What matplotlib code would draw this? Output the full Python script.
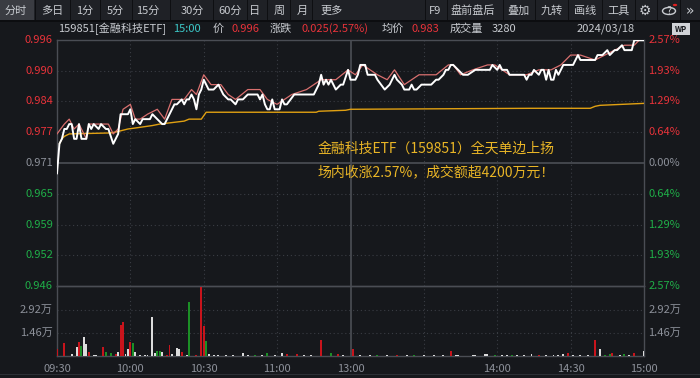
import matplotlib.pyplot as plt
from matplotlib.patches import Rectangle, Circle

plt.rcParams['font.family'] = ['Noto Sans CJK SC', 'DejaVu Sans']

# ---- data (minute index: 0 = 09:30, 120 = 11:30/13:00, 240 = 15:00)
prev_close = 0.9711

t_price = [0, 1, 2, 3, 4, 5, 6, 7, 8, 9, 10, 11, 12, 13, 14, 15, 17, 18, 20, 21, 23, 24, 25, 26, 27, 29,
           30, 31, 32, 34, 35, 36, 38, 39, 41, 43, 44, 46, 48, 49, 51, 52, 53, 54, 55, 56, 57, 58, 59,
           60, 61, 62, 64, 66, 67, 68, 70, 71, 73, 74, 76, 78, 80, 82, 83, 84, 85, 86, 87, 88, 89, 91,
           92, 93, 94, 97, 101, 105, 107, 108, 109, 110, 111, 112, 114, 116, 117, 119, 120, 122, 123,
           124, 126, 127, 130, 131, 134, 136, 138, 139, 141, 142, 144, 145, 146, 147, 149, 153, 155,
           156, 158, 159, 160, 161, 162, 164, 166, 168, 171, 172, 177, 178, 180, 181, 182, 184, 185,
           191, 192, 193, 194, 195, 197, 198, 199, 200, 201, 202, 203, 204, 205, 207, 209, 211, 213,
           214, 220, 221, 223, 225, 226, 228, 229, 231, 232, 235, 236, 240]
price = [0.969, 0.975, 0.976, 0.978, 0.978, 0.979, 0.979, 0.976, 0.976, 0.979, 0.976, 0.976, 0.976,
         0.979, 0.978, 0.979, 0.978, 0.979, 0.978, 0.978, 0.975, 0.976, 0.977, 0.981, 0.981, 0.981,
         0.982, 0.979, 0.980, 0.979, 0.980, 0.980, 0.980, 0.981, 0.980, 0.979, 0.979, 0.981, 0.983,
         0.983, 0.984, 0.983, 0.984, 0.984, 0.985, 0.984, 0.982, 0.985, 0.986, 0.988, 0.987, 0.986,
         0.986, 0.987, 0.986, 0.985, 0.984, 0.984, 0.983, 0.984, 0.984, 0.985, 0.985, 0.985, 0.984,
         0.985, 0.983, 0.982, 0.982, 0.984, 0.982, 0.982, 0.984, 0.983, 0.983, 0.985, 0.985, 0.985,
         0.987, 0.989, 0.987, 0.988, 0.987, 0.988, 0.986, 0.987, 0.987, 0.990, 0.988, 0.988, 0.989,
         0.991, 0.991, 0.989, 0.989, 0.988, 0.986, 0.987, 0.989, 0.988, 0.987, 0.986, 0.986, 0.987,
         0.986, 0.986, 0.987, 0.987, 0.988, 0.988, 0.989, 0.990, 0.990, 0.991, 0.991, 0.990, 0.989,
         0.989, 0.990, 0.990, 0.990, 0.991, 0.990, 0.991, 0.990, 0.990, 0.989, 0.989, 0.988, 0.989,
         0.989, 0.990, 0.989, 0.990, 0.990, 0.988, 0.990, 0.988, 0.988, 0.990, 0.989, 0.991, 0.991,
         0.991, 0.993, 0.992, 0.992, 0.993, 0.993, 0.994, 0.993, 0.994, 0.994, 0.995, 0.994, 0.994,
         0.996, 0.996]

t_ref = [0, 3, 5, 7, 9, 12, 13, 18, 21, 23, 25, 27, 30, 32, 34, 37, 41, 44, 47, 52, 55, 57, 60, 63, 67,
         70, 73, 78, 83, 86, 90, 96, 102, 108, 114, 119, 122, 125, 131, 135, 138, 142, 148, 155, 160,
         162, 165, 170, 176, 179, 185, 192, 197, 202, 206, 210, 214, 220, 224, 228, 232, 236, 238]
ref = [0.977, 0.979, 0.980, 0.978, 0.979, 0.976, 0.979, 0.979, 0.979, 0.977, 0.978, 0.982, 0.983,
       0.980, 0.980, 0.981, 0.982, 0.980, 0.984, 0.984, 0.986, 0.985, 0.989, 0.987, 0.987, 0.985,
       0.984, 0.986, 0.986, 0.984, 0.983, 0.985, 0.986, 0.988, 0.988, 0.990, 0.989, 0.991, 0.989,
       0.988, 0.990, 0.987, 0.989, 0.989, 0.991, 0.991, 0.989, 0.990, 0.991, 0.991, 0.989, 0.989,
       0.990, 0.990, 0.991, 0.993, 0.993, 0.992, 0.993, 0.994, 0.995, 0.995, 0.996]

t_avg = [1, 2, 3, 5, 22, 25, 29, 32, 39, 42, 47, 52, 54, 59, 61, 106, 107, 118, 120, 194, 218, 220,
         222, 231, 240]
avg = [0.975, 0.976, 0.9765, 0.977, 0.9772, 0.9775, 0.978, 0.9782, 0.9787, 0.979, 0.9793, 0.9796,
       0.980, 0.980, 0.9814, 0.9814, 0.9816, 0.9818, 0.982, 0.9822, 0.9822, 0.9826, 0.9828, 0.983,
       0.9832]

vol_t = [0, 3, 6, 8, 9, 10, 11, 12, 13, 15, 16, 19, 20, 22, 24, 25, 26, 27, 28, 29, 30, 31, 32, 34,
         36, 37, 39, 40, 41, 42, 43, 45, 46, 47, 49, 50, 51, 53, 54, 57, 59, 60, 61, 62, 64, 66, 69,
         72, 76, 78, 81, 84, 86, 89, 92, 94, 98, 101, 104, 108, 112, 115, 117, 121, 124, 128, 131,
         135, 139, 143, 146, 150, 154, 158, 161, 163, 164, 170, 171, 175, 176, 179, 182, 184, 186,
         188, 191, 194, 197, 200, 203, 205, 207, 209, 211, 214, 217, 220, 222, 224, 226, 227, 230,
         232, 234, 236, 240]
vol_v = [4400, 8300, 1200, 5700, 8900, 6300, 12000, 7600, 2500, 600, 600, 5700, 2500, 1900, 1300,
         2500, 19700, 21600, 1300, 4400, 8900, 8300, 2500, 700, 700, 700, 24800, 1900, 3200, 3200,
         2500, 700, 7000, 1300, 5100, 4400, 2500, 700, 34300, 700, 43800, 19000, 9500, 1300, 700,
         900, 700, 900, 1900, 700, 900, 700, 1900, 900, 1900, 1300, 1300, 700, 900, 10200, 1900, 1300,
         700, 4400, 700, 900, 600, 900, 700, 900, 600, 700, 900, 700, 3200, 900, 700, 900, 700, 1300,
         1300, 700, 900, 700, 900, 700, 900, 1300, 700, 900, 700, 900, 1300, 1900, 900, 700, 900,
         10200, 4400, 900, 1300, 1900, 900, 1300, 900, 1900, 3280]
vol_c = ['r', 'r', 'w', 'w', 'r', 'g', 'w', 'w', 'r', 'w', 'w', 'r', 'g', 'g', 'r', 'w', 'r', 'r', 'w',
         'w', 'r', 'g', 'w', 'w', 'w', 'w', 'w', 'w', 'g', 'g', 'w', 'r', 'r', 'w', 'w', 'w', 'r', 'w',
         'g', 'r', 'r', 'r', 'g', 'w', 'w', 'w', 'w', 'w', 'w', 'w', 'g', 'w', 'g', 'w', 'w', 'r', 'r',
         'w', 'w', 'r', 'g', 'r', 'w', 'r', 'w', 'w', 'g', 'w', 'r', 'w', 'g', 'w', 'w', 'w', 'r', 'w',
         'w', 'w', 'w', 'w', 'w', 'g', 'w', 'w', 'g', 'w', 'w', 'w', 'r', 'w', 'w', 'w', 'w', 'r', 'w',
         'w', 'w', 'r', 'w', 'g', 'g', 'r', 'w', 'g', 'w', 'r', 'w']

pct_labels = ['2.57%', '1.93%', '1.29%', '0.64%', '0.00%', '0.64%', '1.29%', '1.93%', '2.57%']
pct_levels = [2.57, 1.93, 1.29, 0.64, 0.0, -0.64, -1.29, -1.93, -2.57]
price_labels = ['0.996', '0.990', '0.984', '0.977', '0.971', '0.965', '0.959', '0.952', '0.946']
vol_ticks = [14600, 29200]
vol_labels = ['1.46万', '2.92万']
time_ticks = [0, 30, 60, 90, 120, 180, 210, 240]
time_labels = ['09:30', '10:00', '10:30', '11:00', '13:00', '14:00', '14:30', '15:00']

# ---- style
BG = '#16181c'
RED, GREEN, GREY = '#e8333a', '#1fae48', '#8c9099'
GRID = '#3a3d44'
bar_colors = {'r': '#c8141c', 'g': '#1c8f26', 'w': '#dcdcdc'}

W, H = 700, 378
fig = plt.figure(figsize=(7, 3.78), dpi=100, facecolor=BG)


def box(x0, y0, x1, y1):
    return [x0 / W, 1 - y1 / H, (x1 - x0) / W, (y1 - y0) / H]


def ftext(x, y, s, **kw):
    kw.setdefault('va', 'center')
    fig.text(x / W, 1 - y / H, s, **kw)


# top tab bar
fig.patches.append(Rectangle((0, 1 - 20 / H), 1, 20 / H, transform=fig.transFigure,
                             facecolor='#1f2126', edgecolor='none'))
fig.patches.append(Rectangle((0, 1 - 20 / H), 34 / W, 20 / H, transform=fig.transFigure,
                             facecolor='#3a3c42', edgecolor='none'))
fig.patches.append(Rectangle((0, 1 - 22 / H), 1, 2 / H, transform=fig.transFigure,
                             facecolor='#0c0d10', edgecolor='none'))
for sx in [35, 70, 100, 132, 170, 213, 247, 267, 290, 312, 425, 447, 503, 535, 568, 602, 635, 657, 680]:
    fig.patches.append(Rectangle((sx / W, 1 - 20 / H), 1.2 / W, 20 / H, transform=fig.transFigure,
                                 facecolor='#0e0f12', edgecolor='none'))
tabs = ['分时', '多日', '1分', '5分', '15分', '30分', '60分', '日', '周', '月', '更多',
        'F9', '盘前盘后', '叠加', '九转', '画线', '工具']
tab_x = [16, 52, 85, 115, 148, 192, 230, 255, 279, 302, 332, 435, 473, 518, 552, 585, 618]
for s, x in zip(tabs, tab_x):
    ftext(x, 11, s, ha='center', color='#c8cbd0', fontsize=8)
ftext(645, 11, '⚙', ha='center', color='#c8cbd0', fontsize=10, family='DejaVu Sans')
fig.patches.append(Circle((669 / W, 1 - 11 / H), 6.5 / W, transform=fig.transFigure,
                          facecolor='none', edgecolor='#c8cbd0', lw=1))
ftext(669, 11, '?', ha='center', color='#c8cbd0', fontsize=7, family='DejaVu Sans')
fig.patches.append(Circle((675 / W, 1 - 5 / H), 2.2 / W, transform=fig.transFigure,
                          facecolor='#e02020', edgecolor='none'))
ftext(690, 11, '»', ha='center', color='#c8cbd0', fontsize=10, family='DejaVu Sans')

# info row
info = [(58, '159851[金融科技ETF]', '#c8cbd0'), (173, '15:00', '#3cc8c8'), (213, '价', '#c8cbd0'),
        (232, '0.996', RED), (270, '涨跌', '#c8cbd0'), (302, '0.025(2.57%)', RED),
        (382, '均价', '#c8cbd0'), (412, '0.983', RED), (450, '成交量', '#c8cbd0'),
        (492, '3280', '#c8cbd0'), (577, '2024/03/18', '#c8cbd0')]
for x, s, c in info:
    ftext(x, 29, s, ha='left', color=c, fontsize=8)
fig.patches.append(Rectangle((672 / W, 1 - 35 / H), 18 / W, 12 / H, transform=fig.transFigure,
                             facecolor='#d0d2d6', edgecolor='none'))
ftext(681, 29, 'WP', ha='center', color='#16181c', fontsize=5.5, fontweight='bold')

# ---- price panel
lo, hi = prev_close * (1 - 0.0257), prev_close * (1 + 0.0257)
ax = fig.add_axes(box(57, 40, 644, 286))
ax.set_facecolor('none')
ax.set_xlim(0, 240)
ax.set_ylim(lo, hi)
ax.set_xticks([])
ax.set_yticks([])
for s in ax.spines.values():
    s.set_color('#4a4d54')
    s.set_linewidth(1)

levels = [prev_close * (1 + p / 100) for p in pct_levels]
for lv, p in zip(levels, pct_levels):
    if p == 0:
        ax.axhline(lv, color='#474a51', lw=1.3, zorder=1)
    elif abs(p) < 2.5:
        ax.axhline(lv, color=GRID, lw=0.8, ls=(0, (1, 2.5)), zorder=1)
for t in [30, 60, 90, 150, 180, 210]:
    ax.axvline(t, color=GRID, lw=0.8, ls=(0, (1, 2.5)), zorder=1)
ax.axvline(120, color='#474a51', lw=1.3, zorder=1)

ax.plot(t_avg, avg, color='#e0a012', lw=1.0, zorder=3)
ax.plot(t_ref, ref, color='#d9706f', lw=0.9, zorder=4)
ax.plot(t_price, price, color='white', lw=1.4, zorder=5)

tr = ax.get_yaxis_transform()
for lv, p, pl, rl in zip(levels, pct_levels, price_labels, pct_labels):
    c = RED if p > 0 else (GREEN if p < 0 else GREY)
    ax.text(-0.007, lv, pl, transform=tr, ha='right', va='center', color=c, fontsize=8, clip_on=False)
    ax.text(1.007, lv, rl, transform=tr, ha='left', va='center', color=c, fontsize=8, clip_on=False)

ftext(318, 149, '金融科技ETF（159851）全天单边上扬', ha='left', color='#e9b526', fontsize=10)
ftext(318, 172, '场内收涨2.57%，成交额超4200万元！', ha='left', color='#e9b526', fontsize=10)

# ---- volume panel
vax = fig.add_axes(box(57, 286, 644, 356))
vax.set_facecolor('none')
vax.set_xlim(0, 240)
vax.set_ylim(0, 44400)
vax.set_xticks([])
vax.set_yticks([])
for s in vax.spines.values():
    s.set_color('#4a4d54')
    s.set_linewidth(1)
for v in vol_ticks:
    vax.axhline(v, color=GRID, lw=0.8, ls=(0, (1, 2.5)), zorder=1)
for t in [30, 60, 90, 150, 180, 210]:
    vax.axvline(t, color=GRID, lw=0.8, ls=(0, (1, 2.5)), zorder=1)
vax.axvline(120, color='#474a51', lw=1.3, zorder=1)
vax.bar(vol_t, vol_v, width=0.8, color=[bar_colors[c] for c in vol_c], zorder=3)

vtr = vax.get_yaxis_transform()
for v, s in zip(vol_ticks, vol_labels):
    vax.text(-0.007, v, s, transform=vtr, ha='right', va='center', color=GREY, fontsize=8, clip_on=False)
    vax.text(1.007, v, s, transform=vtr, ha='left', va='center', color=GREY, fontsize=8, clip_on=False)

for t, s in zip(time_ticks, time_labels):
    vax.text(t, -0.11, s, transform=vax.get_xaxis_transform(), ha='center', va='top',
             color=GREY, fontsize=8, clip_on=False)

fig.patches.append(Rectangle((0, 1 - 375 / H), 1, 1.5 / H, transform=fig.transFigure,
                             facecolor='#2c2f35', edgecolor='none'))

fig.savefig('out.png', dpi=100, facecolor=BG)
